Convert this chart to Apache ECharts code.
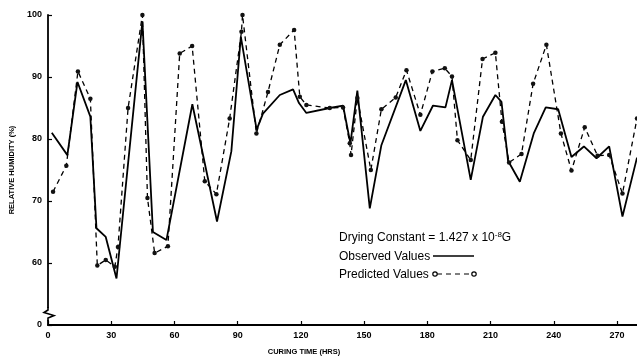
<!DOCTYPE html>
<html>
<head>
<meta charset="utf-8">
<script src="https://cdn.jsdelivr.net/npm/echarts@6/dist/echarts.min.js"></script>
<style>html,body{margin:0;padding:0;background:#fff}#c{width:637px;height:362px}</style>
</head>
<body>
<div id="c"></div>
<script>
// Observed values (solid line): curing time (hrs) and relative humidity (%)
const obsTime = [1.8, 9.2, 14.0, 20.1, 23.0, 27.4, 32.5, 44.8, 49.8, 56.2, 68.5, 80.2, 87.0, 91.5, 99.0, 102.0, 110.0, 116.3, 119.1, 122.6, 133.7, 140.0, 143.5, 146.8, 152.7, 158.2, 169.8, 176.7, 182.7, 188.6, 191.7, 200.6, 206.4, 212.3, 215.2, 218.3, 223.9, 230.5, 236.2, 242.1, 248.4, 254.3, 260.3, 266.3, 272.6, 279.5];
const obsRH   = [81.0, 77.4, 89.2, 83.6, 65.6, 64.2, 57.5, 99.0, 65.0, 63.7, 85.6, 66.7, 78.0, 96.5, 81.5, 84.1, 87.1, 88.0, 85.8, 84.2, 85.0, 85.4, 79.3, 87.8, 68.8, 79.0, 89.5, 81.3, 85.4, 85.1, 89.5, 73.4, 83.6, 87.1, 86.0, 76.5, 73.1, 80.9, 85.1, 84.8, 77.1, 78.8, 76.9, 78.8, 67.5, 77.0];
// Predicted values (dashed line with circles)
const predTime = [2.4, 8.7, 14.2, 20.1, 23.4, 27.4, 31.7, 33.2, 38.0, 44.8, 47.2, 50.6, 56.9, 62.5, 68.4, 74.4, 79.9, 86.2, 91.8, 92.3, 98.9, 104.4, 110.0, 116.8, 119.5, 122.6, 133.7, 140.0, 143.2, 143.8, 146.8, 153.2, 158.2, 165.0, 170.1, 176.7, 182.4, 188.3, 191.7, 194.3, 200.6, 206.2, 212.3, 215.4, 218.8, 224.7, 230.2, 236.5, 243.4, 248.4, 254.7, 260.8, 266.3, 272.6, 279.5];
const predRH   = [71.5, 75.7, 90.9, 86.5, 59.6, 60.5, 59.4, 62.6, 85.0, 100.0, 70.5, 61.6, 62.7, 93.8, 95.0, 73.2, 71.1, 83.3, 97.3, 100.0, 80.9, 87.6, 95.2, 97.6, 86.8, 85.5, 85.0, 85.1, 79.3, 77.4, 86.6, 75.0, 84.8, 86.7, 91.1, 83.9, 90.9, 91.4, 90.1, 79.8, 76.6, 92.9, 93.9, 82.8, 76.2, 77.6, 88.9, 95.2, 80.9, 74.9, 81.9, 77.3, 77.4, 71.2, 83.3];
const yTicks = [50, 60, 70, 80, 90, 100];
const yTickLabels = ['0', '60', '70', '80', '90', '100'];
const xTitle = 'CURING TIME (HRS)';
const yTitle = 'RELATIVE HUMIDITY (%)';

const chart = echarts.init(document.getElementById('c'), null, {renderer: 'canvas'});
const pair = (xs, ys) => xs.map((x, i) => [x, ys[i]]);
const lab = {color: '#000', fontFamily: 'Liberation Sans', fontWeight: 'bold', fontSize: 9};
chart.setOption({
  animation: false,
  backgroundColor: '#fff',
  grid: {left: 48, right: 0, top: 15, bottom: 37},
  xAxis: {
    type: 'value', min: 0, max: 279.5, interval: 30,
    axisLine: {lineStyle: {color: '#000', width: 1.8}},
    axisTick: {inside: true, length: 4, lineStyle: {color: '#000', width: 1.2}},
    axisLabel: Object.assign({margin: 6, showMaxLabel: false, formatter: v => (v % 30 === 0 ? String(v) : '')}, lab),
    splitLine: {show: false}
  },
  yAxis: {
    type: 'value', min: 50, max: 100, interval: 10,
    axisLine: {show: true, lineStyle: {color: '#000', width: 1.8}},
    axisTick: {show: true, inside: true, length: 4, lineStyle: {color: '#000', width: 1.2}},
    axisLabel: Object.assign({margin: 6, formatter: v => yTickLabels[yTicks.indexOf(v)]}, lab),
    splitLine: {show: false},
    name: yTitle, nameLocation: 'middle', nameGap: 23, nameRotate: 90,
    nameTextStyle: {color: '#000', fontFamily: 'Liberation Sans', fontWeight: 'bold', fontSize: 7.5}
  },
  series: [
    {
      type: 'line', name: 'Observed Values', data: pair(obsTime, obsRH),
      symbol: 'none', lineStyle: {color: '#000', width: 1.8}, z: 3
    },
    {
      type: 'line', name: 'Predicted Values', data: pair(predTime, predRH),
      symbol: 'circle', symbolSize: 4.5, itemStyle: {color: '#111'},
      lineStyle: {color: '#000', width: 1.3, type: [5, 4]}, z: 4
    }
  ],
  graphic: [
    // axis break zigzag
    {type: 'rect', shape: {x: 45, y: 308, width: 6, height: 12}, style: {fill: '#fff'}, z: 100},
    {type: 'polyline', shape: {points: [[48, 321], [48, 318], [54, 315.5], [44, 312.5], [48, 310], [48, 307]]}, style: {stroke: '#000', lineWidth: 1.6, fill: null}, z: 101},
    // x axis title
    {type: 'text', x: 304, y: 352, style: {text: xTitle, fill: '#000', font: 'bold 7.5px "Liberation Sans"', align: 'center', verticalAlign: 'middle'}, z: 100},
    // annotation block
    {type: 'text', x: 339, y: 238, style: {
      text: '{a|Drying Constant = 1.427 x 10}{s|-8}{a|G}',
      rich: {a: {fontFamily: 'Liberation Sans', fontSize: 12, fill: '#000', color: '#000'}, s: {fontFamily: 'Liberation Sans', fontSize: 8, color: '#000', padding: [0, 0, 6, 0]}},
      verticalAlign: 'middle'
    }, z: 100},
    {type: 'text', x: 339, y: 257, style: {text: 'Observed Values', fill: '#000', font: '12px "Liberation Sans"', verticalAlign: 'middle'}, z: 100},
    {type: 'line', shape: {x1: 433, y1: 256, x2: 474, y2: 256}, style: {stroke: '#000', lineWidth: 1.3}, z: 100},
    {type: 'text', x: 339, y: 275, style: {text: 'Predicted Values', fill: '#000', font: '12px "Liberation Sans"', verticalAlign: 'middle'}, z: 100},
    {type: 'line', shape: {x1: 437, y1: 274, x2: 472, y2: 274}, style: {stroke: '#000', lineWidth: 1.2, lineDash: [5, 4]}, z: 100},
    {type: 'circle', shape: {cx: 435, cy: 274, r: 2.2}, style: {stroke: '#000', fill: '#fff', lineWidth: 1.2}, z: 101},
    {type: 'circle', shape: {cx: 474, cy: 274, r: 2.2}, style: {stroke: '#000', fill: '#fff', lineWidth: 1.2}, z: 101}
  ]
});
</script>
</body>
</html>
